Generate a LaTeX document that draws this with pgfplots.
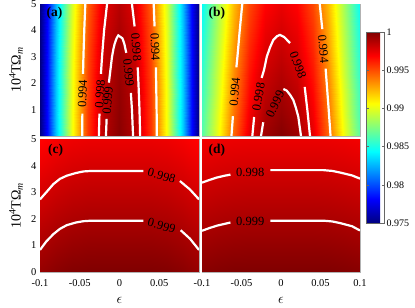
\documentclass[border=0pt]{standalone}
\usepackage{fontspec}
\setmainfont{Liberation Serif}
\usepackage{pgfplots}
\pgfplotsset{compat=1.18}
\pgfplotsset{
 panel/.style={scale only axis, enlargelimits=false, xmin=-0.1, xmax=0.1, ymin=0, ymax=5,
   colormap/jet, point meta min=0.975, point meta max=1,
   axis line style={black!30}, major tick length=0pt,
   tick label style={font=\fontsize{10.5bp}{12bp}\selectfont},
   xticklabel style={yshift=-4bp},
   /pgf/number format/assume math mode=true},
 cl/.style={white, line width=2.2bp},
 ylab/.style={ylabel={10\textsuperscript{4}TΩ\textsubscript{\textit{m}}},
   ylabel style={at={(axis description cs:-0.151,0.5)}, anchor=center, font=\fontsize{14bp}{16bp}\selectfont}},
 xlab/.style={xlabel={$\epsilon$},
   xlabel style={at={(axis description cs:0.5,-0.21)}, anchor=center, font=\fontsize{14bp}{16bp}\selectfont}},
}
\tikzset{
 lab/.style={font=\fontsize{12.5bp}{14bp}\selectfont, inner sep=0pt, text=black},
 plab/.style={font=\fontsize{13.5bp}{15bp}\selectfont\bfseries, anchor=west, inner sep=0pt},
}
\begin{document}
\begin{tikzpicture}
\useasboundingbox (0bp,0bp) rectangle (415bp,308bp);
% ---------------- (a)
\begin{axis}[panel, at={(40bp,172bp)}, anchor=south west, width=159bp, height=132bp,
  xtick=\empty, ytick={1,2,3,4,5}, ylab]
\addplot[surf, shader=interp, mesh/cols=13, point meta=explicit] table[row sep=\\, meta=v]{
x y v\\
-0.1 0 0.975\\ -0.09 0 0.97862\\ -0.08 0 0.98306\\ -0.06 0 0.99036\\ -0.04 0 0.99558\\ -0.02 0 0.99872\\ 0 0 0.99976\\ 0.02 0 0.99872\\ 0.04 0 0.99558\\ 0.06 0 0.99036\\ 0.08 0 0.98306\\ 0.09 0 0.97862\\ 0.1 0 0.975\\
-0.1 1 0.975\\ -0.09 1 0.97869\\ -0.08 1 0.98308\\ -0.06 1 0.99032\\ -0.04 1 0.99550\\ -0.02 1 0.99860\\ 0 1 0.99963\\ 0.02 1 0.99860\\ 0.04 1 0.99550\\ 0.06 1 0.99032\\ 0.08 1 0.98308\\ 0.09 1 0.97869\\ 0.1 1 0.975\\
-0.1 2 0.975\\ -0.09 2 0.97870\\ -0.08 2 0.98306\\ -0.06 2 0.99023\\ -0.04 2 0.99536\\ -0.02 2 0.99843\\ 0 2 0.99946\\ 0.02 2 0.99843\\ 0.04 2 0.99536\\ 0.06 2 0.99023\\ 0.08 2 0.98306\\ 0.09 2 0.97870\\ 0.1 2 0.975\\
-0.1 3 0.975\\ -0.09 3 0.97867\\ -0.08 3 0.98298\\ -0.06 3 0.99009\\ -0.04 3 0.99517\\ -0.02 3 0.99821\\ 0 3 0.99923\\ 0.02 3 0.99821\\ 0.04 3 0.99517\\ 0.06 3 0.99009\\ 0.08 3 0.98298\\ 0.09 3 0.97867\\ 0.1 3 0.975\\
-0.1 4 0.975\\ -0.09 4 0.97858\\ -0.08 4 0.98285\\ -0.06 4 0.98989\\ -0.04 4 0.99492\\ -0.02 4 0.99794\\ 0 4 0.99894\\ 0.02 4 0.99794\\ 0.04 4 0.99492\\ 0.06 4 0.98989\\ 0.08 4 0.98285\\ 0.09 4 0.97858\\ 0.1 4 0.975\\
-0.1 5 0.975\\ -0.09 5 0.97844\\ -0.08 5 0.98267\\ -0.06 5 0.98965\\ -0.04 5 0.99463\\ -0.02 5 0.99761\\ 0 5 0.99861\\ 0.02 5 0.99761\\ 0.04 5 0.99463\\ 0.06 5 0.98965\\ 0.08 5 0.98267\\ 0.09 5 0.97844\\ 0.1 5 0.975\\
};
% 0.994
\addplot[cl] coordinates {(-0.04698,0)(-0.0467,0.85)};
\addplot[cl] coordinates {(-0.0459,2.35)(-0.04538,3)(-0.04435,4)(-0.04303,5)};
\addplot[cl] coordinates {(0.04698,0)(0.04668,1)(0.04615,2)(0.0458,2.6)};
\addplot[cl] coordinates {(0.0441,4.15)(0.04303,5)};
% 0.998
\addplot[cl] coordinates {(-0.02597,0)(-0.0252,0.85)};
\addplot[cl] coordinates {(-0.0234,2.35)(-0.02198,3)(-0.01938,4)(-0.01565,5)};
\addplot[cl] coordinates {(0.02597,0)(0.02514,1)(0.02384,2)(0.0229,2.6)};
\addplot[cl] coordinates {(0.0190,4.15)(0.01565,5)};
% 0.999
\addplot[cl] coordinates {(-0.01706,0)(-0.0162,0.65)};
\addplot[cl] coordinates {(-0.01334,2.02)(-0.00944,3)(-0.00762,3.3)(-0.00602,3.5)(-0.00368,3.7)(-0.0015,3.81)(0.00368,3.7)(0.00602,3.5)(0.0085,3.15)};
\addplot[cl] coordinates {(0.0143,1.63)(0.01566,1)(0.01706,0)};
\node[lab, rotate=88] at (axis cs:-0.0465,1.6) {0.994};
\node[lab, rotate=86] at (axis cs:-0.0246,1.6) {0.998};
\node[lab, rotate=85] at (axis cs:-0.0148,1.34) {0.999};
\node[lab, rotate=-84] at (axis cs:0.0114,2.4) {0.999};
\node[lab, rotate=-86] at (axis cs:0.0211,3.37) {0.998};
\node[lab, rotate=-88] at (axis cs:0.0449,3.37) {0.994};
\node[plab] at (rel axis cs:0.04,0.93) {(a)};
\end{axis}
% ---------------- (b)
\begin{axis}[panel, at={(202bp,172bp)}, anchor=south west, width=158bp, height=132bp,
  xtick=\empty, ytick=\empty,
  colorbar,
  colorbar style={at={(parent axis.north east)}, anchor=north west, xshift=-2.5bp, yshift=-28bp,
    scale only axis, width=18bp, height=191bp,
    ytick={0.975,0.98,0.985,0.99,0.995,1}, yticklabels={0.975,0.98,0.985,0.99,0.995,1},
    yticklabel style={font=\fontsize{10bp}{12bp}\selectfont, xshift=-1bp},
    axis line style={black!60}, major tick length=2.5bp, tick style={black!60}}]
\addplot[surf, shader=interp, mesh/cols=11, point meta=explicit] table[row sep=\\, meta=v]{
x y v\\
-0.1 0 0.98650\\ -0.08 0 0.99030\\ -0.06 0 0.99450\\ -0.04 0 0.99750\\ -0.02 0 0.99930\\ 0 0 0.99990\\ 0.02 0 0.99930\\ 0.04 0 0.99750\\ 0.06 0 0.99450\\ 0.08 0 0.99030\\ 0.1 0 0.98650\\
-0.1 1 0.98610\\ -0.08 1 0.98992\\ -0.06 1 0.99407\\ -0.04 1 0.99703\\ -0.02 1 0.99880\\ 0 1 0.99939\\ 0.02 1 0.99880\\ 0.04 1 0.99703\\ 0.06 1 0.99407\\ 0.08 1 0.98992\\ 0.1 1 0.98610\\
-0.1 2 0.98570\\ -0.08 2 0.98954\\ -0.06 2 0.99363\\ -0.04 2 0.99655\\ -0.02 2 0.99830\\ 0 2 0.99889\\ 0.02 2 0.99830\\ 0.04 2 0.99655\\ 0.06 2 0.99363\\ 0.08 2 0.98954\\ 0.1 2 0.98570\\
-0.1 3 0.98530\\ -0.08 3 0.98917\\ -0.06 3 0.99320\\ -0.04 3 0.99608\\ -0.02 3 0.99781\\ 0 3 0.99838\\ 0.02 3 0.99781\\ 0.04 3 0.99608\\ 0.06 3 0.99320\\ 0.08 3 0.98917\\ 0.1 3 0.98530\\
-0.1 4 0.98490\\ -0.08 4 0.98879\\ -0.06 4 0.99276\\ -0.04 4 0.99560\\ -0.02 4 0.99731\\ 0 4 0.99788\\ 0.02 4 0.99731\\ 0.04 4 0.99560\\ 0.06 4 0.99276\\ 0.08 4 0.98879\\ 0.1 4 0.98490\\
-0.1 5 0.98450\\ -0.08 5 0.98841\\ -0.06 5 0.99233\\ -0.04 5 0.99513\\ -0.02 5 0.99681\\ 0 5 0.99737\\ 0.02 5 0.99681\\ 0.04 5 0.99513\\ 0.06 5 0.99233\\ 0.08 5 0.98841\\ 0.1 5 0.98450\\
};
% 0.994
\addplot[cl] coordinates {(-0.06272,0)(-0.0609,0.75)};
\addplot[cl] coordinates {(-0.0565,2.6)(-0.05516,3)(-0.05225,4)(-0.04906,5)};
\addplot[cl] coordinates {(0.06272,0)(0.06037,1)(0.05786,2)(0.0565,2.55)};
\addplot[cl] coordinates {(0.05225,4.05)(0.04906,5)};
% 0.998
\addplot[cl] coordinates {(-0.0363,0)(-0.0340,0.72)};
\addplot[cl] coordinates {(-0.0245,2.2)(-0.0215,2.5)(-0.018,3.0)(-0.014,3.35)(-0.0097,3.64)(-0.005,3.78)(-0.0013,3.83)(0.004,3.75)(0.0114,3.52)};
\addplot[cl] coordinates {(0.030,1.86)(0.0335,0.95)(0.0367,0)};
% 0.999
\addplot[cl] coordinates {(-0.0253,0)(-0.0225,0.52)};
\addplot[cl] coordinates {(0.003,1.78)(0.0072,1.72)(0.0115,1.56)(0.0156,1.36)(0.0190,1.05)(0.0219,0.73)(0.0253,0)};
\node[lab, rotate=85] at (axis cs:-0.0585,1.67) {0.994};
\node[lab, rotate=80] at (axis cs:-0.0285,1.48) {0.998};
\node[lab, rotate=65] at (axis cs:-0.0075,1.2) {0.999};
\node[lab, rotate=-70] at (axis cs:0.0215,2.69) {0.998};
\node[lab, rotate=-85] at (axis cs:0.0535,3.3) {0.994};
\node[plab] at (rel axis cs:0.04,0.93) {(b)};
\end{axis}
% ---------------- (c)
\begin{axis}[panel, at={(40bp,36bp)}, anchor=south west, width=159bp, height=133bp,
  xtick={-0.1,-0.05,0,0.05,0.1}, xticklabels={-0.1,-0.05,0,0.05,{}},
  ytick={0,1,2,3,4,5}, ylab, xlab]
\addplot[surf, shader=interp, mesh/cols=11, point meta=explicit] table[row sep=\\, meta=v]{
x y v\\
-0.1 0 0.99946\\ -0.08 0 0.99976\\ -0.06 0 0.99995\\ -0.04 0 1\\ -0.02 0 1\\ 0 0 1\\ 0.02 0 1\\ 0.04 0 1\\ 0.06 0 0.99995\\ 0.08 0 0.99976\\ 0.1 0 0.99946\\
-0.1 1 0.99892\\ -0.08 1 0.99922\\ -0.06 1 0.99941\\ -0.04 1 0.99949\\ -0.02 1 0.99950\\ 0 1 0.99950\\ 0.02 1 0.99950\\ 0.04 1 0.99949\\ 0.06 1 0.99941\\ 0.08 1 0.99922\\ 0.1 1 0.99892\\
-0.1 2 0.99839\\ -0.08 2 0.99869\\ -0.06 2 0.99888\\ -0.04 2 0.99896\\ -0.02 2 0.99896\\ 0 2 0.99896\\ 0.02 2 0.99896\\ 0.04 2 0.99896\\ 0.06 2 0.99888\\ 0.08 2 0.99869\\ 0.1 2 0.99839\\
-0.1 3 0.99785\\ -0.08 3 0.99815\\ -0.06 3 0.99834\\ -0.04 3 0.99842\\ -0.02 3 0.99843\\ 0 3 0.99843\\ 0.02 3 0.99843\\ 0.04 3 0.99842\\ 0.06 3 0.99834\\ 0.08 3 0.99815\\ 0.1 3 0.99785\\
-0.1 4 0.99732\\ -0.08 4 0.99762\\ -0.06 4 0.99781\\ -0.04 4 0.99789\\ -0.02 4 0.99789\\ 0 4 0.99789\\ 0.02 4 0.99789\\ 0.04 4 0.99789\\ 0.06 4 0.99781\\ 0.08 4 0.99762\\ 0.1 4 0.99732\\
-0.1 5 0.99678\\ -0.08 5 0.99708\\ -0.06 5 0.99727\\ -0.04 5 0.99735\\ -0.02 5 0.99736\\ 0 5 0.99736\\ 0.02 5 0.99736\\ 0.04 5 0.99735\\ 0.06 5 0.99727\\ 0.08 5 0.99708\\ 0.1 5 0.99678\\
};
\addplot[cl] coordinates {(-0.1,2.73)(-0.092,3.0)(-0.0833,3.30)(-0.075,3.50)(-0.0664,3.62)(-0.055,3.72)(-0.0455,3.78)(-0.035,3.80)(0.03,3.80)};
\addplot[cl] coordinates {(0.076,3.42)(0.0887,3.1)(0.1,2.73)};
\addplot[cl] coordinates {(-0.1,0.83)(-0.092,1.15)(-0.0833,1.42)(-0.075,1.62)(-0.0664,1.76)(-0.055,1.86)(-0.0455,1.91)(-0.035,1.93)(0.03,1.93)};
\addplot[cl] coordinates {(0.077,1.57)(0.0887,1.25)(0.1,0.83)};
\node[lab, rotate=-16] at (axis cs:0.053,3.62) {0.998};
\node[lab, rotate=-16] at (axis cs:0.053,1.74) {0.999};
\node[plab] at (rel axis cs:0.05,0.917) {(c)};
\end{axis}
% ---------------- (d)
\begin{axis}[panel, at={(202bp,36bp)}, anchor=south west, width=158bp, height=133bp,
  xtick={-0.1,-0.05,0,0.05,0.1}, xticklabels={-0.1,-0.05,0,0.05,0.1},
  ytick=\empty, xlab]
\addplot[surf, shader=interp, mesh/cols=11, point meta=explicit] table[row sep=\\, meta=v]{
x y v\\
-0.1 0 0.99982\\ -0.08 0 0.99993\\ -0.06 0 1\\ -0.04 0 1\\ -0.02 0 1\\ 0 0 1\\ 0.02 0 1\\ 0.04 0 1\\ 0.06 0 1\\ 0.08 0 0.99993\\ 0.1 0 0.99982\\
-0.1 1 0.99928\\ -0.08 1 0.99940\\ -0.06 1 0.99947\\ -0.04 1 0.99950\\ -0.02 1 0.99950\\ 0 1 0.99950\\ 0.02 1 0.99950\\ 0.04 1 0.99950\\ 0.06 1 0.99947\\ 0.08 1 0.99940\\ 0.1 1 0.99928\\
-0.1 2 0.99875\\ -0.08 2 0.99887\\ -0.06 2 0.99894\\ -0.04 2 0.99896\\ -0.02 2 0.99896\\ 0 2 0.99896\\ 0.02 2 0.99896\\ 0.04 2 0.99896\\ 0.06 2 0.99894\\ 0.08 2 0.99887\\ 0.1 2 0.99875\\
-0.1 3 0.99821\\ -0.08 3 0.99833\\ -0.06 3 0.99840\\ -0.04 3 0.99843\\ -0.02 3 0.99843\\ 0 3 0.99843\\ 0.02 3 0.99843\\ 0.04 3 0.99843\\ 0.06 3 0.99840\\ 0.08 3 0.99833\\ 0.1 3 0.99821\\
-0.1 4 0.99768\\ -0.08 4 0.99780\\ -0.06 4 0.99787\\ -0.04 4 0.99789\\ -0.02 4 0.99789\\ 0 4 0.99789\\ 0.02 4 0.99789\\ 0.04 4 0.99789\\ 0.06 4 0.99787\\ 0.08 4 0.99780\\ 0.1 4 0.99768\\
-0.1 5 0.99714\\ -0.08 5 0.99726\\ -0.06 5 0.99733\\ -0.04 5 0.99736\\ -0.02 5 0.99736\\ 0 5 0.99736\\ 0.02 5 0.99736\\ 0.04 5 0.99736\\ 0.06 5 0.99733\\ 0.08 5 0.99726\\ 0.1 5 0.99714\\
};
\addplot[cl] coordinates {(-0.1,3.36)(-0.0907,3.46)(-0.0814,3.55)(-0.0713,3.62)(-0.064,3.66)};
\addplot[cl] coordinates {(-0.0135,3.83)(0.0536,3.83)(0.065,3.80)(0.0747,3.74)(0.09,3.63)(0.1,3.51)};
\addplot[cl] coordinates {(-0.1,1.55)(-0.0907,1.65)(-0.0814,1.74)(-0.0713,1.81)(-0.064,1.86)};
\addplot[cl] coordinates {(-0.0135,1.93)(0.0536,1.93)(0.065,1.90)(0.0747,1.84)(0.09,1.72)(0.1,1.56)};
\node[lab] at (axis cs:-0.039,3.74) {0.998};
\node[lab] at (axis cs:-0.039,1.89) {0.999};
\node[plab] at (rel axis cs:0.04,0.917) {(d)};
\end{axis}
\end{tikzpicture}
\end{document}
